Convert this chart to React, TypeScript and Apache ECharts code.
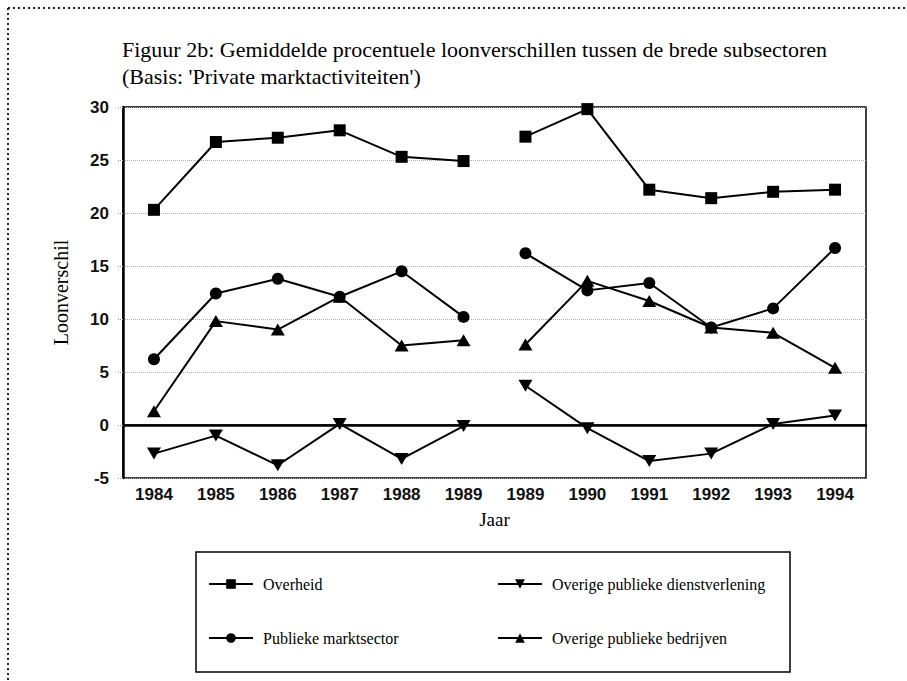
import React, { useEffect, useRef } from "react";
import * as echarts from "echarts";

const categories = ["1984", "1985", "1986", "1987", "1988", "1989", "1989", "1990", "1991", "1992", "1993", "1994"];
const overheid = [20.3, 26.7, 27.1, 27.8, 25.3, 24.9, 27.2, 29.8, 22.2, 21.4, 22.0, 22.2];
const publiekeMarktsector = [6.2, 12.4, 13.8, 12.1, 14.5, 10.2, 16.2, 12.7, 13.4, 9.2, 11.0, 16.7];
const overigeDienstverlening = [-2.7, -1.0, -3.8, 0.1, -3.2, -0.1, 3.7, -0.3, -3.4, -2.7, 0.1, 0.9];
const overigeBedrijven = [1.3, 9.8, 9.0, 12.1, 7.5, 8.0, 7.6, 13.6, 11.7, 9.2, 8.7, 5.4];
const yTicks = { min: -5, max: 30, interval: 5 };
const breakIndex = 6;

const DOWN_TRI = "path://M0,0 L10,0 L5,9 Z";

const groups = [
  { name: "Overheid", data: overheid, symbol: "rect", size: 12 },
  { name: "Publieke marktsector", data: publiekeMarktsector, symbol: "circle", size: 12 },
  { name: "Overige publieke dienstverlening", data: overigeDienstverlening, symbol: DOWN_TRI, size: [14, 12] },
  { name: "Overige publieke bedrijven", data: overigeBedrijven, symbol: "triangle", size: [14, 12] },
];

export default function App() {
  const ref = useRef<HTMLDivElement>(null);
  useEffect(() => {
    if (!ref.current) return;
    const chart = echarts.init(ref.current, null, { renderer: "svg" });
    const series: any[] = [];
    groups.forEach((g, gi) => {
      const first = g.data.map((v, i) => (i < breakIndex ? v : null));
      const second = g.data.map((v, i) => (i >= breakIndex ? v : null));
      [first, second].forEach((d, k) => {
        const s: any = {
          name: g.name,
          type: "line",
          data: d,
          symbol: g.symbol,
          symbolSize: g.size,
          showAllSymbol: true,
          connectNulls: false,
          lineStyle: { color: "#000", width: 2 },
          itemStyle: { color: "#000" },
          z: 3,
        };
        if (gi === 0 && k === 0) {
          s.markLine = {
            silent: true,
            symbol: "none",
            label: { show: false },
            lineStyle: { color: "#000", width: 1.5, type: "solid" },
            data: [{ yAxis: 0 }],
          };
        }
        series.push(s);
      });
    });
    const legendText = { fontFamily: "Liberation Serif", fontSize: 16, color: "#000", padding: [0, 0, 0, 5] };
    const labelStyle = { fontFamily: "Liberation Sans", fontSize: 17, fontWeight: "bold", color: "#111" };
    chart.setOption({
      animation: false,
      backgroundColor: "#fff",
      title: {
        text: "Figuur 2b: Gemiddelde procentuele loonverschillen tussen de brede subsectoren\n(Basis: 'Private marktactiviteiten')",
        left: 117,
        top: 31,
        textStyle: { fontFamily: "Liberation Serif", fontSize: 22, fontWeight: "normal", color: "#000", lineHeight: 27 },
      },
      grid: { left: 123, right: 41, top: 107, bottom: 203, show: true, borderColor: "#000", borderWidth: 1.5, backgroundColor: "transparent" },
      xAxis: {
        type: "category",
        data: categories,
        boundaryGap: true,
        axisLine: { show: true, lineStyle: { color: "#000", width: 2.5 } },
        axisTick: { show: false },
        axisLabel: { ...labelStyle, margin: 8, interval: 0 },
        name: "Jaar",
        nameLocation: "middle",
        nameGap: 32,
        nameTextStyle: { fontFamily: "Liberation Serif", fontSize: 19, color: "#000" },
      },
      yAxis: {
        type: "value",
        min: yTicks.min,
        max: yTicks.max,
        interval: yTicks.interval,
        axisLine: { show: true, lineStyle: { color: "#000", width: 2.5 } },
        axisTick: { show: true, length: 5, lineStyle: { color: "#999", type: "dotted" } },
        axisLabel: { ...labelStyle, margin: 14 },
        splitLine: { show: true, lineStyle: { color: "#aaa", type: "dotted", width: 1 } },
        name: "Loonverschil",
        nameLocation: "middle",
        nameGap: 52,
        nameRotate: 90,
        nameTextStyle: { fontFamily: "Liberation Serif", fontSize: 20, color: "#000" },
      },
      legend: [
        {
          data: [groups[0].name, groups[1].name],
          orient: "vertical",
          left: 208,
          top: 576,
          padding: 0,
          itemWidth: 44,
          itemHeight: 12,
          itemGap: 38,
          textStyle: legendText,
        },
        {
          data: [groups[2].name, groups[3].name],
          orient: "vertical",
          left: 497,
          top: 576,
          padding: 0,
          itemWidth: 44,
          itemHeight: 12,
          itemGap: 38,
          textStyle: legendText,
        },
      ],
      graphic: [
        { type: "rect", shape: { x: 196, y: 552, width: 594, height: 120 }, style: { fill: "none", stroke: "#000", lineWidth: 1.5 }, silent: true },
        { type: "line", shape: { x1: 8, y1: 8, x2: 907, y2: 8 }, style: { stroke: "#222", lineWidth: 2, lineDash: [2, 3] }, silent: true },
        { type: "line", shape: { x1: 8, y1: 8, x2: 8, y2: 681 }, style: { stroke: "#222", lineWidth: 2, lineDash: [2, 3] }, silent: true },
      ],
      series,
    });
    return () => chart.dispose();
  }, []);
  return <div ref={ref} style={{ position: "fixed", left: 0, top: 0, width: 907, height: 681 }} />;
}
